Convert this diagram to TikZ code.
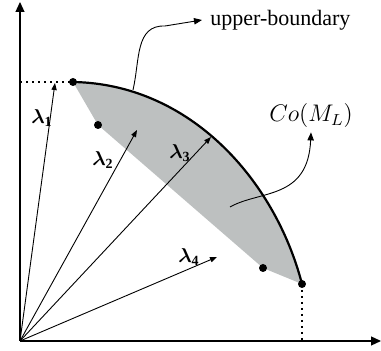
\documentclass[tikz,border=0pt]{standalone}
\usepackage{fontspec}
\setmainfont{Liberation Serif}
\usepackage{amsmath}
\usepackage{tikz}
\usetikzlibrary{arrows.meta}
\definecolor{hullgray}{HTML}{BDC0C0}

\begin{document}
\begin{tikzpicture}[x=0.5pt, y=-0.5pt,
  axis/.style={line width=0.6pt, -{Triangle[length=5pt, width=4.5pt]}},
  ray/.style={line width=0.45pt, -{Triangle[length=3.5pt, width=2.6pt]}},
  guide/.style={line width=1pt, dotted},
  dot/.style={circle, fill=black, inner sep=0pt, minimum size=4pt},
  lab/.style={inner sep=1pt},
  callout/.style={line width=0.45pt, -{Triangle[length=4pt, width=3.2pt]}}
]
\useasboundingbox (0,0) rectangle (381,351);

% axes
\coordinate (o) at (20,341);
\coordinate (ytop) at (20,2);
\coordinate (xend) at (381,341);
\draw[axis] (o) -- (ytop);
\draw[axis] (o) -- (xend);

% hull points
\coordinate (p1) at (73,82);
\coordinate (p2) at (98,125);
\coordinate (p3) at (263,268);
\coordinate (p4) at (302,284);
\coordinate (ylev) at (20,82);
\coordinate (xlev) at (302,341);

\fill[hullgray] (p1) -- (p2) -- (p3) -- (p4)
  .. controls (275,180) and (190,84) .. (p1) -- cycle;
\draw[line width=1.1pt] (p1) .. controls (190,84) and (275,180) .. (p4);

\draw[guide] (ylev) -- (p1);
\draw[guide] (p4) -- (xlev);

\foreach \p in {p1,p2,p3,p4}
  \node[dot] at (\p) {};

% rays
\coordinate (t1) at (55,83);
\coordinate (t2) at (137,130);
\coordinate (t3) at (211,137);
\coordinate (t4) at (217,257);
\draw[ray] (o) -- (t1);
\draw[ray] (o) -- (t2);
\draw[ray] (o) -- (t3);
\draw[ray] (o) -- (t4);

\node[lab] (l1) at (42,118) {$\boldsymbol{\lambda}_{\mathbf{1}}$};
\node[lab] (l2) at (103,160) {$\boldsymbol{\lambda}_{\mathbf{2}}$};
\node[lab] (l3) at (180,153) {$\boldsymbol{\lambda}_{\mathbf{3}}$};
\node[lab] (l4) at (189,257) {$\boldsymbol{\lambda}_{\mathbf{4}}$};

% callouts
\node[font=\fontsize{11}{13}\selectfont, anchor=west, inner sep=4pt] (ub) at (202,20) {upper-boundary};
\node[font=\fontsize{11.5}{14}\selectfont, inner sep=2pt] (co) at (311,116) {$Co(M_L)$};

\coordinate (ubfoot) at (133,90);
\draw[callout] (ubfoot) .. controls (140,60) and (135,25) .. (165,26) -- (ub.west);
\coordinate (cofoot) at (230,207);
\draw[callout] (cofoot) .. controls (260,190) and (308,200) .. (co.south);

\end{tikzpicture}
\end{document}
